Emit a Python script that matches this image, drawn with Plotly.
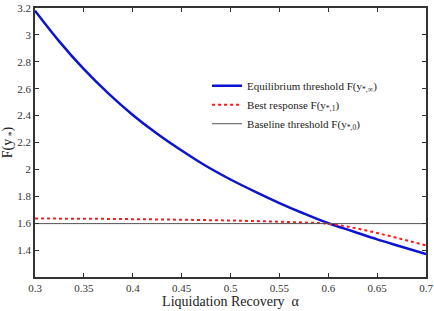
import plotly.graph_objects as go

alpha = [0.30, 0.325, 0.35, 0.375, 0.40, 0.425, 0.45, 0.475, 0.50, 0.525,
         0.55, 0.575, 0.60, 0.625, 0.65, 0.675, 0.70]
equilibrium = [3.18, 2.95, 2.745, 2.565, 2.405, 2.265, 2.14, 2.025, 1.925, 1.835,
               1.75, 1.672, 1.60, 1.54, 1.48, 1.425, 1.37]
best_response = [1.635, 1.634, 1.633, 1.632, 1.630, 1.628, 1.626, 1.623, 1.620, 1.616,
                 1.611, 1.605, 1.597, 1.567, 1.527, 1.482, 1.435]
baseline = [1.597] * len(alpha)

x_ticks = [0.3, 0.35, 0.4, 0.45, 0.5, 0.55, 0.6, 0.65, 0.7]
x_labels = ["0.3", "0.35", "0.4", "0.45", "0.5", "0.55", "0.6", "0.65", "0.7"]
y_ticks = [1.2, 1.4, 1.6, 1.8, 2.0, 2.2, 2.4, 2.6, 2.8, 3.0, 3.2]
y_labels = ["", "1.4", "1.6", "1.8", "2", "2.2", "2.4", "2.6", "2.8", "3", "3.2"]

FONT = "Liberation Serif"

fig = go.Figure()
fig.add_trace(go.Scatter(x=alpha, y=equilibrium, mode="lines", line=dict(color="#0a14d2", width=2.5, shape="spline"),
                         name="Equilibrium threshold F(y<sub>*,∞</sub>)"))
fig.add_trace(go.Scatter(x=alpha, y=best_response, mode="lines", line=dict(color="#ff1a1a", width=2, dash="dot", shape="spline"),
                         name="Best response F(y<sub>*,1</sub>)"))
fig.add_trace(go.Scatter(x=alpha, y=baseline, mode="lines", line=dict(color="#555555", width=1),
                         name="Baseline threshold F(y<sub>*,0</sub>)"))

axis_common = dict(showline=True, linecolor="#333333", linewidth=1.5, mirror="ticks", ticks="inside",
                   ticklen=4, tickcolor="#333333", showgrid=False, zeroline=False, automargin=False,
                   tickfont=dict(family=FONT, size=11, color="#333333"))

fig.update_layout(
    width=434, height=311,
    margin=dict(l=35, r=8, t=8, b=34, autoexpand=False),
    paper_bgcolor="white", plot_bgcolor="white",
    font=dict(family=FONT, color="#222222"),
    xaxis=dict(range=[0.3, 0.7], tickvals=x_ticks, ticktext=x_labels,
               title=dict(text="Liquidation Recovery  α", font=dict(family=FONT, size=14), standoff=2),
               **axis_common),
    yaxis=dict(range=[1.2, 3.2], tickvals=y_ticks, ticktext=y_labels,
               title=dict(text="F(y<sub> *</sub>)", font=dict(family=FONT, size=14), standoff=0),
               **axis_common),
    legend=dict(x=0.44, y=0.765, xanchor="left", yanchor="top", bgcolor="rgba(0,0,0,0)",
                font=dict(family=FONT, size=11, color="#222222"), tracegroupgap=0, itemwidth=30),
    showlegend=True,
)

fig.write_html("out.html")
